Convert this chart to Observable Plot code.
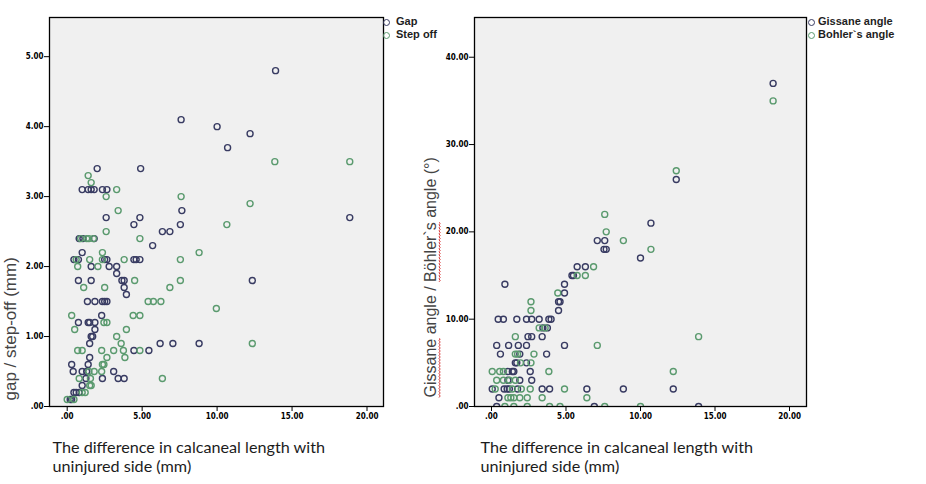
<!DOCTYPE html>
<html><head><meta charset="utf-8">
<script src="https://cdn.jsdelivr.net/npm/d3@7"></script>
<script src="https://cdn.jsdelivr.net/npm/@observablehq/plot@0.6"></script>
<style>
body{margin:0;background:#fff;}
#wrap{position:relative;width:926px;height:484px;overflow:hidden;}
#wrap svg{position:absolute;top:0;}
.leg{position:absolute;font:bold 11px "Liberation Sans",Arial,sans-serif;color:#1e1e1e;line-height:13px;z-index:5;white-space:nowrap}
.leg .c{display:inline-block;width:5px;height:5px;border-radius:50%;border:1.4px solid;vertical-align:-1px}
</style></head>
<body><div id="wrap"></div>
<script>
// ---- Left panel: gap / step-off (mm)
const gapX = [13.9,7.6,10.0,12.2,10.7,2.0,4.9,1.0,1.4,1.6,1.8,2.35,2.65,7.65,2.6,4.85,18.85,4.45,7.55,6.35,6.85,0.8,1.05,1.8,5.7,1.0,0.45,0.75,2.5,2.65,4.45,4.6,4.85,1.6,2.8,3.3,3.3,0.75,1.6,3.65,3.8,12.35,3.8,3.95,1.35,1.85,2.35,2.5,2.65,2.3,0.75,1.4,1.5,1.85,1.85,1.6,1.7,1.5,6.2,7.05,8.8,4.45,5.45,1.5,0.3,1.4,0.4,1.0,1.3,3.1,1.25,2.35,3.4,3.8,1.0,0.45,0.6,0.8,0.2,0.3];
const gapY = [4.8,4.1,4.0,3.9,3.7,3.4,3.4,3.1,3.1,3.1,3.1,3.1,3.1,2.8,2.7,2.7,2.7,2.6,2.6,2.5,2.5,2.4,2.4,2.4,2.3,2.2,2.1,2.1,2.1,2.1,2.1,2.1,2.1,2.0,2.0,2.0,1.9,1.8,1.8,1.8,1.8,1.8,1.7,1.6,1.5,1.5,1.5,1.5,1.5,1.3,1.2,1.2,1.2,1.2,1.1,1.0,1.0,0.9,0.9,0.9,0.9,0.8,0.8,0.7,0.6,0.6,0.5,0.5,0.5,0.5,0.4,0.4,0.4,0.4,0.3,0.2,0.2,0.2,0.1,0.1];
const stepX = [18.85,13.85,1.4,1.6,3.3,2.6,7.6,12.2,3.4,10.65,2.6,0.9,1.3,1.45,1.75,4.85,2.35,8.8,0.6,1.5,2.35,3.8,7.55,0.7,2.05,2.5,1.1,6.85,4.5,7.55,5.4,5.75,6.25,9.95,0.3,4.4,4.85,2.45,2.65,0.5,3.95,3.3,3.6,12.35,0.7,1.0,2.3,3.1,3.75,4.85,2.65,3.85,2.35,2.45,1.45,1.8,2.3,0.8,1.55,6.35,1.5,1.6,1.0,1.2,0.0,0.45];
const stepY = [3.5,3.5,3.3,3.2,3.1,3.0,3.0,2.9,2.8,2.6,2.5,2.4,2.4,2.4,2.4,2.4,2.2,2.2,2.1,2.1,2.1,2.1,2.1,2.0,2.0,1.7,1.7,1.7,1.8,1.8,1.5,1.5,1.5,1.4,1.3,1.3,1.3,1.2,1.2,1.1,1.1,1.0,0.9,0.9,0.8,0.8,0.8,0.8,0.8,0.8,0.7,0.7,0.6,0.6,0.5,0.5,0.5,0.4,0.4,0.4,0.3,0.3,0.2,0.2,0.1,0.1];

// ---- Right panel: Gissane angle / Böhler's angle (°)
const gisX = [18.9,12.4,10.7,7.1,7.6,7.55,7.7,10.0,5.75,6.3,5.4,5.5,0.9,4.9,4.9,4.5,4.6,4.5,0.45,0.8,1.7,2.35,2.7,3.2,3.85,4.0,3.45,3.75,2.45,2.7,3.4,0.35,1.15,1.8,2.35,4.9,0.6,1.9,3.7,1.6,1.7,2.35,1.1,1.4,1.5,2.6,1.1,1.9,2.7,0.05,0.85,1.05,1.2,1.75,3.4,3.9,6.4,8.85,12.2,0.5,0.35,6.9,13.9];
const gisY = [37,26,21,19,19,18,18,17,16,16,15,15,14,14,13,12,12,11,10,10,10,10,10,10,10,10,9,9,8,8,8,7,7,7,7,7,6,6,6,5,5,5,4,4,4,4,3,3,3,2,2,2,2,2,2,2,2,2,2,1,0,0,0];
const bohX = [18.9,12.4,7.6,7.7,8.85,10.7,6.85,5.75,6.3,4.45,2.65,2.65,3.2,3.6,1.6,13.9,7.1,1.6,2.85,1.75,2.65,1.95,0.05,0.55,0.8,3.85,12.2,0.35,0.8,1.2,1.6,0.25,1.4,2.0,2.6,4.9,1.1,1.3,1.5,1.9,2.4,3.4,6.4,0.9,1.5,2.4,3.9,4.6,7.6,10.0];
const bohY = [35,27,22,20,19,18,16,15,15,13,12,11,9,9,8,8,7,6,6,6,5,5,4,4,4,4,4,3,3,3,3,2,2,2,2,2,1,1,1,1,1,1,1,0,0,0,0,0,0,0];

const xTicks = [0,5,10,15,20];
const leftYTicks = [0,1,2,3,4,5];
const rightYTicks = [0,10,20,30,40];
const xTitle = "The difference in calcaneal length with\nuninjured side (mm)";
const leftYLabel = "gap / step-off (mm)";
const rightYLabel = "Gissane angle / Böhler`s angle (°)";
const rightYLabelMarked = ["Gissane", "Böhler`s"]; // words shown with the red spell-check underline
const leftLegend = ["Gap", "Step off"];
const rightLegend = ["Gissane angle", "Bohler`s angle"];

const DARK = "#383b62", GREEN = "#5a9a6e";
const fmt = d => d3.format(".2f")(d).replace(/^0\./, ".");
const tickFont = "bold 8px 'DejaVu Sans Condensed', 'Liberation Sans Narrow', sans-serif";

function panel(o) {
  const dots = (xs, ys, color) => Plot.dot(d3.range(xs.length), {
    x: i => xs[i], y: i => ys[i], r: 3, stroke: color, strokeWidth: 1.4, fill: "none", clip: true
  });
  return Plot.plot({
    width: o.width, height: 484,
    marginLeft: o.marginLeft, marginRight: o.marginRight, marginTop: 17, marginBottom: 78,
    style: {background: "transparent", color: "black", overflow: "visible"},
    x: {domain: o.xDomain},
    y: {domain: o.yDomain},
    marks: [
      Plot.frame({fill: "#f0f0f0", stroke: "none"}),
      dots(o.x1, o.y1, DARK),
      dots(o.x2, o.y2, GREEN),
      Plot.frame({stroke: "black", strokeWidth: 1.3}),
      Plot.axisX({ticks: xTicks, tickFormat: fmt, tickSize: 5, tickPadding: 2, label: null, fontSize: 8, fontWeight: "bold"}),
      Plot.axisY({ticks: o.yTicks, tickFormat: fmt, tickSize: 5, tickPadding: 1, label: null, fontSize: 8, fontWeight: "bold"}),
      Plot.text([xTitle], {frameAnchor: "bottom-left", textAnchor: "start", lineAnchor: "top",
        dx: o.xTitleDx, dy: 34, fontSize: 16.2, lineHeight: 1.12, fill: "#1c1c1c", fontFamily: "Lato, sans-serif"}),
      Plot.text([o.yLabel], {frameAnchor: "bottom-left", textAnchor: "start", rotate: -90,
        dx: o.yLabelDx, dy: o.yLabelDy, fontSize: o.yLabelSize, fill: "#444", fontFamily: "'Liberation Sans', Arial, sans-serif"})
    ]
  });
}

const wrap = document.getElementById("wrap");
const left = panel({width: 470, marginLeft: 49, marginRight: 87, xDomain: [-1.18, 21.1], yDomain: [0, 5.56],
  yTicks: leftYTicks, x1: gapX, y1: gapY, x2: stepX, y2: stepY, xTitleDx: 3,
  yLabel: leftYLabel, yLabelDx: -34, yLabelDy: -6, yLabelSize: 17});
left.style.left = "0px";
const right = panel({width: 506, marginLeft: 54, marginRight: 120, xDomain: [-1.14, 21.14], yDomain: [0, 44.55],
  yTicks: rightYTicks, x1: gisX, y1: gisY, x2: bohX, y2: bohY, xTitleDx: 6,
  yLabel: rightYLabel, yLabelDx: -39, yLabelDy: -9, yLabelSize: 16});
right.style.left = "420px";
wrap.appendChild(left);
wrap.appendChild(right);
for (const svg of [left, right]) {
  svg.querySelectorAll("g[aria-label$='tick label'] text").forEach(el => el.style.font = tickFont);
}
// red wavy spell-check underline under two words of the right y label
right.querySelectorAll("text").forEach(t => {
  if (t.textContent !== rightYLabel) return;
  for (const w of rightYLabelMarked) {
    const i = rightYLabel.indexOf(w);
    if (i < 0) continue;
    try {
      const a = t.getStartPositionOfChar(i), b = t.getEndPositionOfChar(i + w.length - 1);
      const y0 = a.y + 3.5;
      let d = `M${a.x},${y0}`;
      for (let x = a.x, k = 0; x < b.x; x += 1.5, k++) d += `L${Math.min(x + 1.5, b.x)},${y0 + (k % 2 ? 0 : 1.2)}`;
      const p = document.createElementNS("http://www.w3.org/2000/svg", "path");
      p.setAttribute("d", d);
      p.setAttribute("fill", "none");
      p.setAttribute("stroke", "#d42a2a");
      p.setAttribute("stroke-width", "0.9");
      if (t.getAttribute("transform")) p.setAttribute("transform", t.getAttribute("transform"));
      t.parentNode.appendChild(p);
    } catch (e) {}
  }
});

function legend(labels, leftPx, gap) {
  const div = document.createElement("div");
  div.className = "leg";
  div.style.left = leftPx + "px";
  div.style.top = "15px";
  labels.forEach((t, i) => {
    const row = document.createElement("div");
    const c = document.createElement("span");
    c.className = "c";
    c.style.borderColor = i === 0 ? DARK : GREEN;
    c.style.marginRight = gap + "px";
    row.appendChild(c);
    row.appendChild(document.createTextNode(t));
    div.appendChild(row);
  });
  wrap.appendChild(div);
}
legend(leftLegend, 383, 6);
legend(rightLegend, 808, 3);
</script>
</body></html>
